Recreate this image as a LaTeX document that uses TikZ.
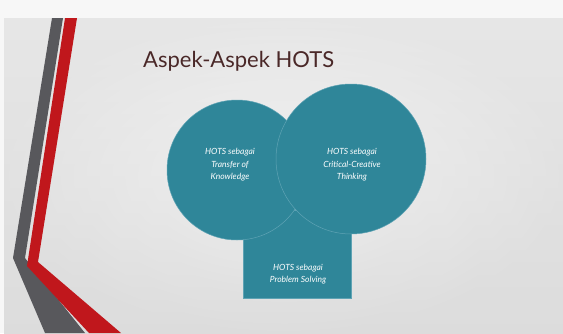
\documentclass[tikz,border=0pt]{standalone}
\usepackage{fontspec}
\setmainfont{Lato}
\definecolor{teal}{HTML}{2F8699}
\definecolor{tealline}{HTML}{5FA3B4}
\definecolor{stripegrey}{HTML}{58585C}
\definecolor{stripered}{HTML}{C0171C}
\definecolor{titlecol}{HTML}{4A2828}
\begin{document}
\begin{tikzpicture}[x=1pt,y=-1pt,
  shape fill/.style={fill=teal,draw=tealline,line width=0.5pt},
  inner text/.style={text=white,font=\fontsize{8.5}{12.5}\selectfont\itshape,align=center}]
\useasboundingbox (0,0) rectangle (563,333);
\fill[gray!6] (0,0) rectangle (563,333);
\shade[top color=gray!10,bottom color=gray!30] (4,18) rectangle (563,333);
\shade[inner color=white!92!gray,outer color=gray!25,opacity=0.6] (4,18) rectangle (563,333);
% stripes
\fill[stripegrey] (52,18) -- (63,18) -- (25,258) -- (85,333) -- (45,333) -- (13,258) -- cycle;
\fill[stripered] (65,18) -- (77,18) -- (38,262) -- (121,333) -- (89,333) -- (27,266) -- cycle;
% title
\node[anchor=base west,text=titlecol,font=\fontsize{22}{26}\selectfont,inner sep=0] (title) at (143,67) {Aspek-Aspek HOTS};
% shapes
\node[shape fill,rectangle,minimum width=108,minimum height=88,anchor=south west] (ps) at (243,298) {};
\node[shape fill,circle,minimum size=140,inner sep=0] (tk) at (237,170) {};
\node[shape fill,circle,minimum size=150,inner sep=0] (ct) at (351,159) {};
\node[inner text] (tkt) at (230,165) {HOTS sebagai\\Transfer of\\Knowledge};
\node[inner text] (ctt) at (352,165) {HOTS sebagai\\Critical-Creative\\Thinking};
\node[inner text] (pst) at (298,274) {HOTS sebagai\\Problem Solving};
\end{tikzpicture}
\end{document}
